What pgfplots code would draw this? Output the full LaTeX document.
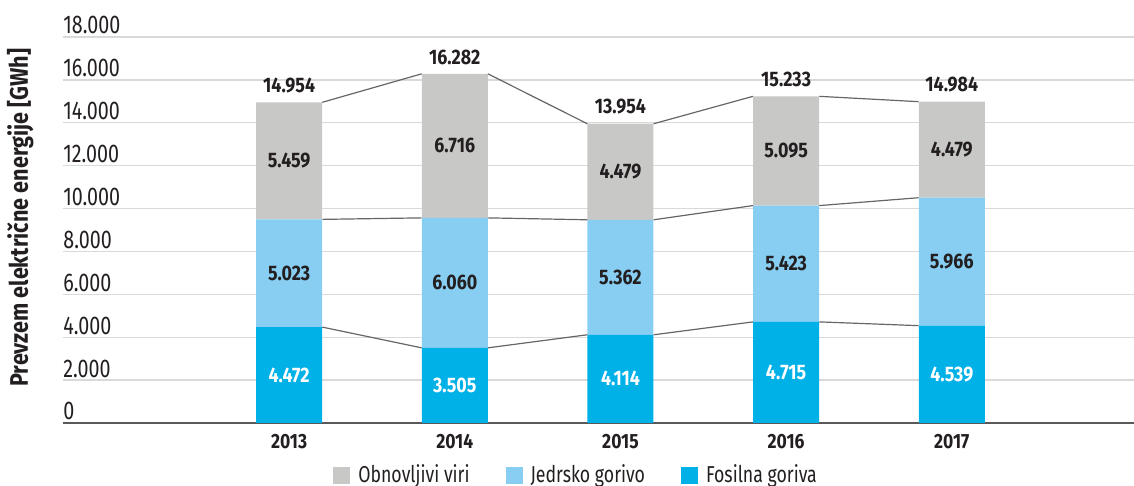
\documentclass[border=0pt]{standalone}
\usepackage{fontspec}
\setmainfont{Fira Sans}[FakeStretch=0.85]
\newfontfamily\cond{Fira Sans}[FakeStretch=0.77]
\usepackage{pgfplots}
\pgfplotsset{compat=1.18}

\definecolor{obn}{HTML}{C8C8C6}
\definecolor{jed}{HTML}{87CEF2}
\definecolor{fos}{HTML}{00B1E8}
\definecolor{txt}{HTML}{231F20}
\definecolor{conn}{HTML}{666666}

\pgfplotsset{
  frame/.style={
    at={(0,0)}, anchor=south west,
    width=535.5pt, height=193pt, scale only axis,
    xmin=-1.365, xmax=5.1, ymin=0, ymax=18000,
  },
  lbl/.style={draw=none, mark=none, forget plot, nodes near coords, point meta=explicit symbolic},
}

\begin{document}
\begin{tikzpicture}
% bars, grid, ticks, legend
\begin{axis}[
  frame,
  ybar stacked, bar width=33pt,
  axis line style={draw=none},
  major tick length=0pt,
  scaled y ticks=false,
  xtick={0,1,2,3,4}, xticklabels={2013,2014,2015,2016,2017},
  xticklabel style={font=\bfseries\fontsize{10.3}{12}\selectfont, text=txt, yshift=-2pt},
  ytick={0,2000,...,18000},
  yticklabels={0,2.000,4.000,6.000,8.000,10.000,12.000,14.000,16.000,18.000},
  yticklabel style={anchor=south west, inner sep=0pt, yshift=1.2pt, font=\cond\fontsize{12.8}{14}\selectfont, text=txt},
  ymajorgrids, grid style={draw=black!15, line width=0.7pt},
  extra y ticks={0}, extra y tick labels={},
  extra y tick style={grid style={draw=black!65, line width=1.1pt}},
  ylabel={Prevzem električne energije [GWh]},
  ylabel style={at={(axis description cs:-0.040,0.532)}, anchor=center, font=\bfseries\fontsize{12.7}{14}\selectfont, text=txt},
  legend columns=3,
  legend style={at={(0.48,-0.135)}, anchor=center, draw=none, text=txt,
    font=\cond\fontsize{11.5}{13}\selectfont,
    /tikz/every odd column/.append style={column sep=2pt},
    /tikz/every even column/.append style={column sep=16pt}},
  legend image code/.code={\fill[#1, draw=none] (0pt,-4.2pt) rectangle (8.5pt,4.2pt);},
]
\addlegendimage{fill=obn}\addlegendentry{Obnovljivi viri}
\addlegendimage{fill=jed}\addlegendentry{Jedrsko gorivo}
\addlegendimage{fill=fos}\addlegendentry{Fosilna goriva}

\addplot[fill=fos, draw=none, forget plot] coordinates {(0,4472) (1,3505) (2,4114) (3,4715) (4,4539)};
\addplot[fill=jed, draw=none, forget plot] coordinates {(0,5023) (1,6060) (2,5362) (3,5423) (4,5966)};
\addplot[fill=obn, draw=none, forget plot] coordinates {(0,5459) (1,6716) (2,4479) (3,5095) (4,4479)};
\end{axis}

% connector lines and value labels
\begin{axis}[frame, hide axis, clip=false, unbounded coords=jump]
\addplot[draw=conn, line width=0.6pt, forget plot] coordinates {
  (0.2,4472) (0.8,3505) (1,nan) (1.2,3505) (1.8,4114) (2,nan) (2.2,4114) (2.8,4715) (3,nan) (3.2,4715) (3.8,4539)};
\addplot[draw=conn, line width=0.6pt, forget plot] coordinates {
  (0.2,9495) (0.8,9565) (1,nan) (1.2,9565) (1.8,9476) (2,nan) (2.2,9476) (2.8,10138) (3,nan) (3.2,10138) (3.8,10505)};
\addplot[draw=conn, line width=0.6pt, forget plot] coordinates {
  (0.2,14954) (0.8,16282) (1,nan) (1.2,16282) (1.8,13954) (2,nan) (2.2,13954) (2.8,15233) (3,nan) (3.2,15233) (3.8,14984)};

\addplot[lbl, nodes near coords style={anchor=center, text=white, font=\bfseries\fontsize{10.5}{12}\selectfont}] coordinates {
  (0,2236)[4.472] (1,1752)[3.505] (2,2057)[4.114] (3,2357)[4.715] (4,2270)[4.539]};
\addplot[lbl, nodes near coords style={anchor=center, text=txt, font=\bfseries\fontsize{10.5}{12}\selectfont}] coordinates {
  (0,6984)[5.023] (1,6535)[6.060] (2,6795)[5.362] (3,7426)[5.423] (4,7522)[5.966]};
\addplot[lbl, nodes near coords style={anchor=center, text=txt, font=\bfseries\fontsize{10.5}{12}\selectfont}] coordinates {
  (0,12224)[5.459] (1,12923)[6.716] (2,11716)[4.479] (3,12686)[5.095] (4,12744)[4.479]};
\addplot[lbl, nodes near coords style={anchor=south, inner sep=0pt, yshift=4.5pt, text=txt, font=\bfseries\fontsize{10.5}{12}\selectfont}] coordinates {
  (0,14954)[14.954] (1,16282)[16.282] (2,13954)[13.954] (3,15233)[15.233] (4,14984)[14.984]};
\end{axis}

\pgfresetboundingbox
\path (-31.5pt,-31.5pt) rectangle (535.5pt,211.5pt);
\end{tikzpicture}
\end{document}
